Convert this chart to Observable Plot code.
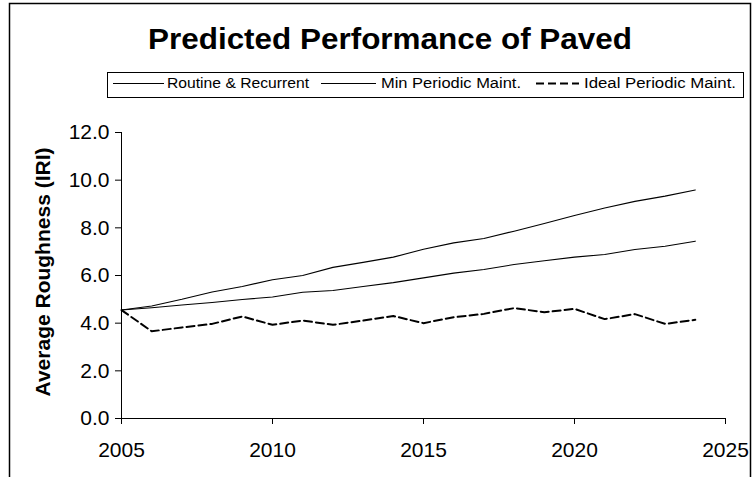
<!DOCTYPE html>
<html>
<head>
<meta charset="utf-8">
<script src="https://cdn.jsdelivr.net/npm/d3@7"></script>
<script src="https://cdn.jsdelivr.net/npm/@observablehq/plot@0.6"></script>
<style>
  body { margin: 0; background: #fff; }
  #wrap { position: relative; width: 756px; height: 477px; overflow: hidden; background: #fff; }
  #wrap svg { position: absolute; left: 0; top: 0; }
</style>
</head>
<body>
<div id="wrap"></div>
<script>
const chartTitle = "Predicted Performance of Paved";
const yLabel = "Average Roughness (IRI)";
const seriesNames = ["Routine & Recurrent", "Min Periodic Maint.", "Ideal Periodic Maint."];
const years = [2005, 2006, 2007, 2008, 2009, 2010, 2011, 2012, 2013, 2014,
               2015, 2016, 2017, 2018, 2019, 2020, 2021, 2022, 2023, 2024];
const routine = [4.55, 4.72, 5.00, 5.31, 5.54, 5.82, 6.00, 6.34, 6.55, 6.77,
                 7.10, 7.37, 7.55, 7.86, 8.18, 8.52, 8.83, 9.11, 9.33, 9.59];
const minPeriodic = [4.55, 4.65, 4.76, 4.87, 4.99, 5.10, 5.30, 5.37, 5.54, 5.70,
                     5.90, 6.10, 6.25, 6.46, 6.62, 6.77, 6.88, 7.09, 7.23, 7.44];
const idealPeriodic = [4.55, 3.66, 3.82, 3.97, 4.28, 3.93, 4.11, 3.93, 4.11, 4.30,
                       4.00, 4.25, 4.39, 4.63, 4.46, 4.60, 4.17, 4.38, 3.97, 4.14];
const xTicks = [2005, 2010, 2015, 2020, 2025];
const yTicks = [0, 2, 4, 6, 8, 10, 12];

const font = "'Liberation Sans', Arial, sans-serif";
const rows = (vals, name) => years.map((yr, i) => ({year: yr, value: vals[i], series: name}));

const plot = Plot.plot({
  width: 756,
  height: 477,
  marginLeft: 121,
  marginRight: 31,
  marginTop: 132,
  marginBottom: 59,
  style: {fontFamily: font, fontSize: "21px", color: "#000", background: "transparent", overflow: "visible"},
  x: {domain: [2005, 2025]},
  y: {domain: [0, 12]},
  marks: [
    Plot.axisX({ticks: xTicks, tickFormat: d => String(d), tickSize: 6, tickPadding: 18, label: null, fontSize: 21}),
    Plot.axisY({ticks: yTicks, tickFormat: d => d.toFixed(1), tickSize: 6, tickPadding: 6, label: null, fontSize: 21}),
    Plot.ruleX([2005], {stroke: "#000"}),
    Plot.ruleY([0], {stroke: "#000"}),
    Plot.lineY(rows(routine, seriesNames[0]), {x: "year", y: "value", stroke: "#000", strokeWidth: 1.1}),
    Plot.lineY(rows(minPeriodic, seriesNames[1]), {x: "year", y: "value", stroke: "#000", strokeWidth: 1.1}),
    Plot.lineY(rows(idealPeriodic, seriesNames[2]), {x: "year", y: "value", stroke: "#000", strokeWidth: 2, strokeDasharray: "8,4"})
  ]
});
document.getElementById("wrap").appendChild(plot);

// Overlay: chart frame, title, y-axis title and legend
const ov = d3.create("svg").attr("width", 756).attr("height", 477)
  .style("font-family", font);
ov.append("rect").attr("x", 9.5).attr("y", 3.5).attr("width", 741).attr("height", 600)
  .attr("fill", "none").attr("stroke", "#000").attr("stroke-width", 1.5);
ov.append("text").attr("x", 390).attr("y", 48.5).attr("text-anchor", "middle")
  .attr("font-size", 29.5).attr("font-weight", "bold").attr("fill", "#000")
  .attr("textLength", 484).attr("lengthAdjust", "spacingAndGlyphs").text(chartTitle);
ov.append("text").attr("transform", "translate(50,272) rotate(-90)").attr("text-anchor", "middle")
  .attr("font-size", 21).attr("font-weight", "bold").attr("fill", "#000").text(yLabel);
const lg = ov.append("g");
lg.append("rect").attr("x", 107.5).attr("y", 72.5).attr("width", 636).attr("height", 25)
  .attr("fill", "#fff").attr("stroke", "#000").attr("stroke-width", 1);
const items = [
  {x1: 113, x2: 164, tx: 167, tw: 142, dash: null, w: 1.1},
  {x1: 321, x2: 376, tx: 381, tw: 140, dash: null, w: 1.1},
  {x1: 536, x2: 579, tx: 584, tw: 152, dash: "8,4", w: 2}
];
items.forEach((it, i) => {
  lg.append("line").attr("x1", it.x1).attr("x2", it.x2).attr("y1", 83.5).attr("y2", 83.5)
    .attr("stroke", "#000").attr("stroke-width", it.w).attr("stroke-dasharray", it.dash);
  lg.append("text").attr("x", it.tx).attr("y", 87.5).attr("font-size", 14).attr("fill", "#000")
    .attr("textLength", it.tw).attr("lengthAdjust", "spacingAndGlyphs").text(seriesNames[i]);
});
document.getElementById("wrap").appendChild(ov.node());
</script>
</body>
</html>
